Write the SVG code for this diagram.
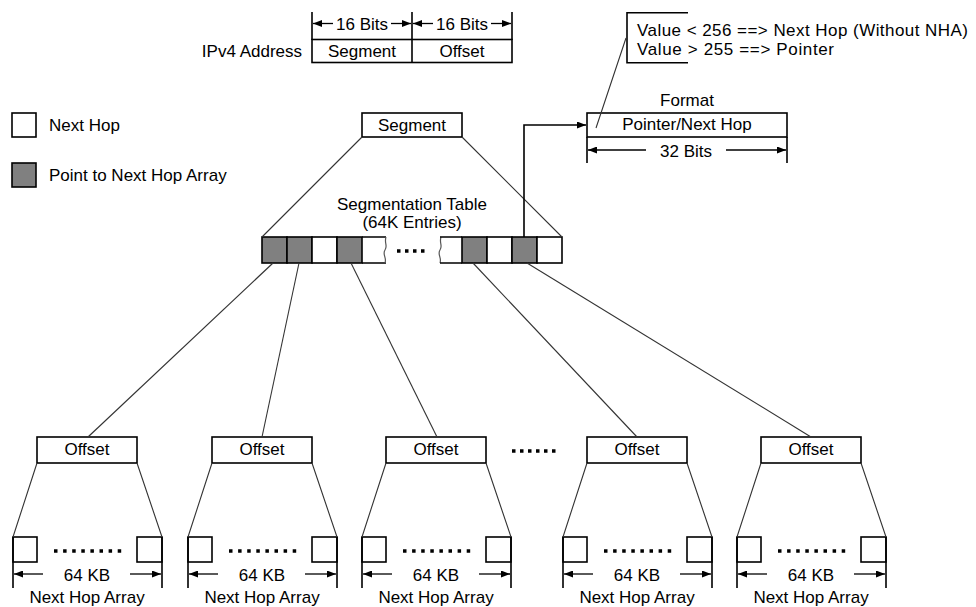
<svg xmlns="http://www.w3.org/2000/svg" width="976" height="607" viewBox="0 0 976 607">
  <defs>
    <style>
      text { font-family: "Liberation Sans", Arial, sans-serif; font-size: 17px; fill: #000; }
      .c { text-anchor: middle; }
      .e { text-anchor: end; }
      .box { fill: #fff; stroke: #000; stroke-width: 1.6; }
      .grey { fill: #808080; stroke: #000; stroke-width: 1.6; }
      .rule { fill: none; stroke: #000; stroke-width: 1.6; }
      .dim { fill: none; stroke: #000; stroke-width: 1.3; }
      .thin { fill: none; stroke: #333; stroke-width: 1.1; }
      .wave { fill: none; stroke: #555; stroke-width: 1.2; }
      .dots { fill: none; stroke: #000; stroke-width: 3.5; stroke-dasharray: 3.5 5.6; }
      .dots4 { fill: none; stroke: #000; stroke-width: 3.5; stroke-dasharray: 3.5 4.5; }
    </style>
    <marker id="ah" viewBox="0 0 9 7" refX="9" refY="3.5" markerWidth="9" markerHeight="7" markerUnits="userSpaceOnUse" orient="auto">
      <path d="M0,0 L9,3.5 L0,7 z" fill="#000"/>
    </marker>
  </defs>

  <rect width="976" height="607" fill="#fff"/>

  <!-- IPv4 address split into segment / offset -->
  <g id="ipv4-address">
    <text class="e" x="302" y="56.5">IPv4 Address</text>
    <path class="rule" d="M312,12 V40 M412,12 V40 M512,12 V40"/>
    <rect class="box" x="312" y="39.5" width="200" height="23"/>
    <line class="rule" x1="412" y1="39.5" x2="412" y2="62.5"/>
    <line class="dim" x1="333" y1="23.5" x2="313" y2="23.5" marker-end="url(#ah)"/>
    <line class="dim" x1="391" y1="23.5" x2="411" y2="23.5" marker-end="url(#ah)"/>
    <line class="dim" x1="433" y1="23.5" x2="413" y2="23.5" marker-end="url(#ah)"/>
    <line class="dim" x1="491" y1="23.5" x2="511" y2="23.5" marker-end="url(#ah)"/>
    <text class="c" x="362" y="30">16 Bits</text>
    <text class="c" x="462" y="30">16 Bits</text>
    <text class="c" x="362" y="56.5">Segment</text>
    <text class="c" x="462" y="56.5">Offset</text>
  </g>

  <!-- value interpretation note -->
  <g id="value-note">
    <path class="rule" d="M688,12.7 H627 V62.7 H688"/>
    <text x="637" y="36" textLength="331" lengthAdjust="spacing">Value &lt; 256 ==&gt; Next Hop (Without NHA)</text>
    <text x="637" y="55" textLength="197" lengthAdjust="spacing">Value &gt; 255 ==&gt; Pointer</text>
  </g>

  <!-- entry format -->
  <g id="format">
    <text class="c" x="687" y="105.5">Format</text>
    <rect class="box" x="587" y="113" width="200" height="24"/>
    <text class="c" x="687" y="130">Pointer/Next Hop</text>
    <path class="rule" d="M587,137 V163 M787,137 V163"/>
    <line class="dim" x1="646" y1="150" x2="588" y2="150" marker-end="url(#ah)"/>
    <line class="dim" x1="726" y1="150" x2="786" y2="150" marker-end="url(#ah)"/>
    <text class="c" x="686" y="156.5">32 Bits</text>
  </g>

  <!-- legend -->
  <g id="legend-next-hop">
    <rect class="box" x="12" y="113" width="24" height="24"/>
    <text x="49" y="131">Next Hop</text>
  </g>
  <g id="legend-pointer">
    <rect class="grey" x="12" y="163" width="24" height="24"/>
    <text x="49" y="181">Point to Next Hop Array</text>
  </g>

  <!-- segment field -->
  <g id="segment">
    <rect class="box" x="362" y="113" width="100" height="24"/>
    <text class="c" x="412" y="131">Segment</text>
  </g>

  <!-- segmentation table -->
  <g id="segmentation-table">
    <text class="c" x="412" y="210">Segmentation Table</text>
    <text class="c" x="412" y="228">(64K Entries)</text>
    <rect class="grey" x="262" y="237" width="25" height="26"/>
    <rect class="grey" x="287" y="237" width="25" height="26"/>
    <rect class="box" x="312" y="237" width="25" height="26"/>
    <rect class="grey" x="337" y="237" width="25" height="26"/>
    <path class="rule" d="M362,237 H386 M362,263 H386"/>
    <path class="wave" d="M386,237 C384,243 388,246 385,250 C382,254 387,258 385,263"/>
    <path class="dots4" d="M397,251 H428"/>
    <path class="wave" d="M441,237 C439,243 443,246 440,250 C437,254 442,258 440,263"/>
    <path class="rule" d="M440,237 H462 M440,263 H462"/>
    <rect class="grey" x="462" y="237" width="25" height="26"/>
    <rect class="box" x="487" y="237" width="25" height="26"/>
    <rect class="grey" x="512" y="237" width="25" height="26"/>
    <rect class="box" x="537" y="237" width="25" height="26"/>
  </g>

  <!-- offset fields -->
  <g id="offset-1" transform="translate(37,0)">
    <rect class="box" x="0" y="437" width="100" height="26"/>
    <text class="c" x="50" y="455">Offset</text>
  </g>
  <g id="offset-2" transform="translate(212,0)">
    <rect class="box" x="0" y="437" width="100" height="26"/>
    <text class="c" x="50" y="455">Offset</text>
  </g>
  <g id="offset-3" transform="translate(386,0)">
    <rect class="box" x="0" y="437" width="100" height="26"/>
    <text class="c" x="50" y="455">Offset</text>
  </g>
  <path class="dots4" d="M512,451 H560"/>
  <g id="offset-4" transform="translate(587,0)">
    <rect class="box" x="0" y="437" width="100" height="26"/>
    <text class="c" x="50" y="455">Offset</text>
  </g>
  <g id="offset-5" transform="translate(761,0)">
    <rect class="box" x="0" y="437" width="100" height="26"/>
    <text class="c" x="50" y="455">Offset</text>
  </g>

  <!-- next hop arrays -->
  <g id="array-1" transform="translate(37,0)">
    <rect class="box" x="-24" y="537" width="24" height="25"/>
    <rect class="box" x="100" y="537" width="25" height="25"/>
    <path class="rule" d="M-24,537 V588 M125,537 V588"/>
    <path class="dots" d="M17,551 H85"/>
    <line class="dim" x1="6" y1="574" x2="-23" y2="574" marker-end="url(#ah)"/>
    <line class="dim" x1="93" y1="574" x2="124" y2="574" marker-end="url(#ah)"/>
    <text class="c" x="50" y="581">64 KB</text>
    <text class="c" x="50" y="603">Next Hop Array</text>
  </g>
  <g id="array-2" transform="translate(212,0)">
    <rect class="box" x="-24" y="537" width="24" height="25"/>
    <rect class="box" x="100" y="537" width="25" height="25"/>
    <path class="rule" d="M-24,537 V588 M125,537 V588"/>
    <path class="dots" d="M17,551 H85"/>
    <line class="dim" x1="6" y1="574" x2="-23" y2="574" marker-end="url(#ah)"/>
    <line class="dim" x1="93" y1="574" x2="124" y2="574" marker-end="url(#ah)"/>
    <text class="c" x="50" y="581">64 KB</text>
    <text class="c" x="50" y="603">Next Hop Array</text>
  </g>
  <g id="array-3" transform="translate(386,0)">
    <rect class="box" x="-24" y="537" width="24" height="25"/>
    <rect class="box" x="100" y="537" width="25" height="25"/>
    <path class="rule" d="M-24,537 V588 M125,537 V588"/>
    <path class="dots" d="M17,551 H85"/>
    <line class="dim" x1="6" y1="574" x2="-23" y2="574" marker-end="url(#ah)"/>
    <line class="dim" x1="93" y1="574" x2="124" y2="574" marker-end="url(#ah)"/>
    <text class="c" x="50" y="581">64 KB</text>
    <text class="c" x="50" y="603">Next Hop Array</text>
  </g>
  <g id="array-4" transform="translate(587,0)">
    <rect class="box" x="-24" y="537" width="24" height="25"/>
    <rect class="box" x="100" y="537" width="25" height="25"/>
    <path class="rule" d="M-24,537 V588 M125,537 V588"/>
    <path class="dots" d="M17,551 H85"/>
    <line class="dim" x1="6" y1="574" x2="-23" y2="574" marker-end="url(#ah)"/>
    <line class="dim" x1="93" y1="574" x2="124" y2="574" marker-end="url(#ah)"/>
    <text class="c" x="50" y="581">64 KB</text>
    <text class="c" x="50" y="603">Next Hop Array</text>
  </g>
  <g id="array-5" transform="translate(761,0)">
    <rect class="box" x="-24" y="537" width="24" height="25"/>
    <rect class="box" x="100" y="537" width="25" height="25"/>
    <path class="rule" d="M-24,537 V588 M125,537 V588"/>
    <path class="dots" d="M17,551 H85"/>
    <line class="dim" x1="6" y1="574" x2="-23" y2="574" marker-end="url(#ah)"/>
    <line class="dim" x1="93" y1="574" x2="124" y2="574" marker-end="url(#ah)"/>
    <text class="c" x="50" y="581">64 KB</text>
    <text class="c" x="50" y="603">Next Hop Array</text>
  </g>

  <!-- connectors -->
  <g id="connectors">
    <path class="thin" d="M362,137 L262,237 M462,137 L562,237"/>
    <path class="thin" d="M626,38 L596,128"/>
    <path class="rule" d="M524,237 V125 H586" marker-end="url(#ah)"/>
    <path class="thin" d="M273,263 L88,437"/>
    <path class="thin" d="M299,263 L262,437"/>
    <path class="thin" d="M351,263 L437,437"/>
    <path class="thin" d="M473,263 L637,437"/>
    <path class="thin" d="M527,263 L811,437"/>
    <path class="thin" d="M37,463 L13,537 M137,463 L162,537"/>
    <path class="thin" d="M212,463 L188,537 M312,463 L337,537"/>
    <path class="thin" d="M386,463 L362,537 M486,463 L511,537"/>
    <path class="thin" d="M587,463 L563,537 M687,463 L712,537"/>
    <path class="thin" d="M761,463 L737,537 M861,463 L886,537"/>
  </g>
</svg>
